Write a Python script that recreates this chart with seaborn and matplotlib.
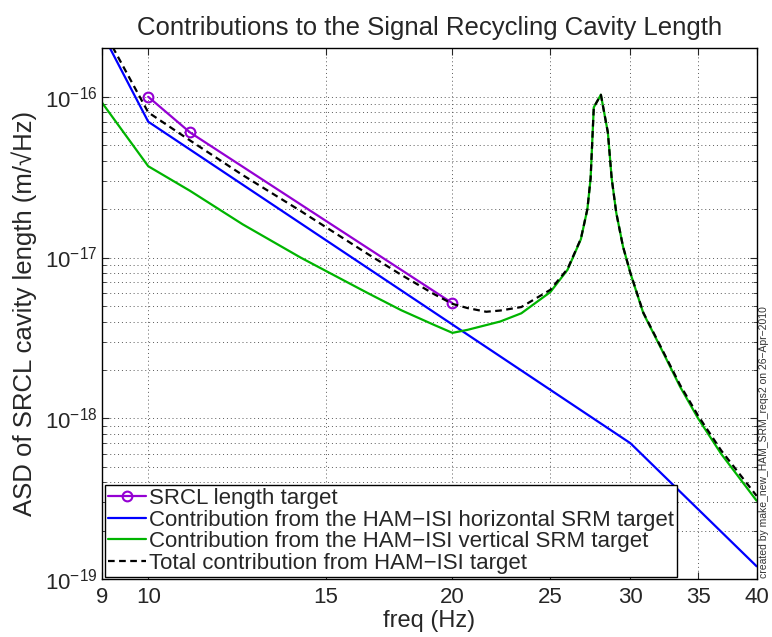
import matplotlib
matplotlib.use('Agg')
import matplotlib.pyplot as plt
import matplotlib.ticker as mticker
import numpy as np
import pandas as pd
import seaborn as sns

# values
target_freq = [10, 11, 20]
target_asd = [1.0e-16, 6.0e-17, 5.2e-18]

horiz_freq = [9, 10, 30, 40]
horiz_asd = [2.5e-16, 7.0e-17, 7.0e-19, 1.2e-19]

vert_freq = [9, 10, 11, 12.4, 14.15, 16.5, 17.8, 19.2, 20, 20.7, 22.3, 23.4, 25, 26,
             26.8, 27.2, 27.4, 27.6, 28.05, 28.5, 28.75, 29.05, 29.5, 30, 30.9, 32.1,
             33.6, 35, 36.9, 40]
vert_asd = [9.2e-17, 3.7e-17, 2.6e-17, 1.61e-17, 1.0e-17, 6.0e-18, 4.7e-18, 3.8e-18,
            3.4e-18, 3.55e-18, 4.0e-18, 4.5e-18, 6.1e-18, 8.4e-18, 1.3e-17, 2.0e-17,
            3.1e-17, 8.6e-17, 1.03e-16, 6.0e-17, 3.1e-17, 1.9e-17, 1.17e-17, 8.0e-18,
            4.5e-18, 2.8e-18, 1.57e-18, 1.0e-18, 6.0e-19, 3.07e-19]

total_freq = [9, 10, 11, 12.4, 14.15, 16.5, 17.8, 19.2, 20, 20.7, 21.6, 22.3, 23.4, 25,
              26, 26.8, 27.2, 27.4, 27.6, 28.05, 28.5, 28.75, 29.05, 29.5, 30, 30.9,
              32.1, 33.6, 35, 36.9, 40]
total_asd = [2.7e-16, 8.0e-17, 5.35e-17, 3.26e-17, 1.95e-17, 1.05e-17, 7.8e-18, 5.9e-18,
             5.15e-18, 4.85e-18, 4.6e-18, 4.68e-18, 4.92e-18, 6.3e-18, 8.5e-18, 1.31e-17,
             2.0e-17, 3.1e-17, 8.6e-17, 1.03e-16, 6.0e-17, 3.1e-17, 1.9e-17, 1.17e-17,
             8.03e-18, 4.54e-18, 2.84e-18, 1.61e-18, 1.04e-18, 6.3e-19, 3.29e-19]

xticks = [9, 10, 15, 20, 25, 30, 35, 40]
yticks = [1e-19, 1e-18, 1e-17, 1e-16]

sns.set_style('ticks')
plt.rcParams['font.family'] = ['Liberation Sans', 'DejaVu Sans']
plt.rcParams['mathtext.default'] = 'regular'
plt.rcParams['axes.unicode_minus'] = True

fig = plt.figure(figsize=(7.72, 6.37), dpi=100)
ax = fig.add_axes([0.1321, 0.091, 0.848, 0.833])

sns.lineplot(x=target_freq, y=target_asd, ax=ax, color='#9400d3', lw=1.6,
             marker='o', markersize=7, markerfacecolor='none', markeredgecolor='#9400d3',
             markeredgewidth=1.5, label='SRCL length target')
sns.lineplot(x=horiz_freq, y=horiz_asd, ax=ax, color='#0000ff', lw=1.6,
             label='Contribution from the HAM\u2212ISI horizontal SRM target')
sns.lineplot(x=vert_freq, y=vert_asd, ax=ax, color='#00b400', lw=1.6,
             label='Contribution from the HAM\u2212ISI vertical SRM target')
sns.lineplot(x=total_freq, y=total_asd, ax=ax, color='black', lw=1.6,
             linestyle=(0, (3, 2)), label='Total contribution from HAM\u2212ISI target')

ax.set_xscale('log')
ax.set_yscale('log')
ax.set_xlim(9, 40)
ax.set_ylim(1e-19, 2e-16)

ax.xaxis.set_major_locator(mticker.FixedLocator(xticks))
ax.xaxis.set_major_formatter(mticker.FixedFormatter([str(t) for t in xticks]))
ax.xaxis.set_minor_locator(mticker.NullLocator())
ax.yaxis.set_major_locator(mticker.FixedLocator(yticks))
ax.yaxis.set_major_formatter(mticker.FixedFormatter(
    [r'$10^{%d}$' % int(np.log10(t)) for t in yticks]))
yminor = [m * t for t in yticks for m in range(2, 10) if m * t < 2e-16]
ax.yaxis.set_minor_locator(mticker.FixedLocator(yminor))
ax.yaxis.set_minor_formatter(mticker.NullFormatter())

ax.grid(True, which='major', axis='both', color='0.35', linestyle=(0, (1, 3)), lw=0.7)
ax.grid(True, which='minor', axis='y', color='0.35', linestyle=(0, (1, 3)), lw=0.7)

ax.tick_params(which='both', direction='in', top=True, right=True)
ax.tick_params(axis='x', labelsize=16, pad=6)
ax.tick_params(axis='y', labelsize=16, pad=3)
ax.tick_params(which='major', length=5, width=0.8)
ax.tick_params(which='minor', length=3, width=0.6)
for s in ax.spines.values():
    s.set_linewidth(1.0)
    s.set_color('black')

ax.set_xlabel('freq (Hz)', fontsize=17, labelpad=1)
ax.set_ylabel('ASD of SRCL cavity length (m/\u221aHz)', fontsize=18.5, labelpad=6)
ax.set_title('Contributions to the Signal Recycling Cavity Length', fontsize=18.5, pad=10)

leg = ax.legend(loc='lower left', bbox_to_anchor=(0.004, 0.004), borderaxespad=0,
                fontsize=16, frameon=True, fancybox=False, framealpha=1,
                edgecolor='black', handlelength=1.7, handletextpad=0.15,
                labelspacing=0.02, borderpad=0.15)
leg.get_frame().set_linewidth(1.0)

fig.text(0.9896, 0.093, 'created by make_new_HAM_SRM_reqs2 on 26\u2212Apr\u22122010',
         rotation=90, fontsize=7.5, ha='center', va='bottom', color='0.2')

fig.savefig('out.png', dpi=100)
